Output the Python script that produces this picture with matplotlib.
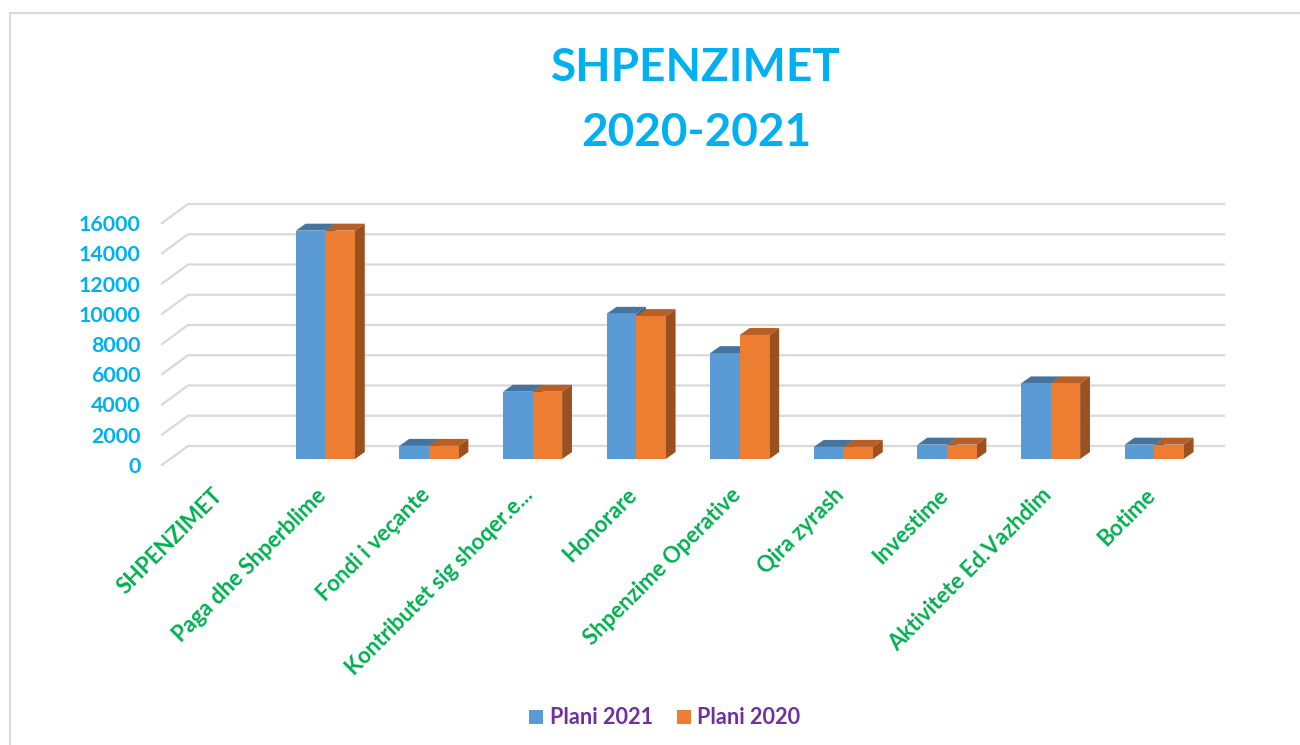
import matplotlib
matplotlib.use('Agg')
import matplotlib.pyplot as plt
from matplotlib.lines import Line2D
from matplotlib.patches import Patch
from matplotlib.transforms import ScaledTranslation

plt.rcParams['font.family'] = ['Lato', 'DejaVu Sans']
plt.rcParams['font.weight'] = 'bold'

categories = ['SHPENZIMET', 'Paga dhe Shperblime', 'Fondi i veçante', 'Kontributet sig shoqer.e...',
              'Honorare', 'Shpenzime Operative', 'Qira zyrash', 'Investime',
              'Aktivitete Ed.Vazhdim', 'Botime']
plani_2021 = [0, 15100, 870, 4450, 9600, 7000, 800, 950, 5000, 950]
plani_2020 = [0, 15100, 870, 4450, 9450, 8200, 800, 950, 5000, 950]
yticks = [0, 2000, 4000, 6000, 8000, 10000, 12000, 14000, 16000]

blue = '#5B9BD5'
orange = '#ED7D31'
blue_top = '#44749F'
orange_top = '#B85F25'
orange_side = '#9A511F'
blue_side = '#386084'
grid_col = '#D9D9D9'

W, H = 1300, 745
fig = plt.figure(figsize=(W / 100, H / 100), dpi=100)

# frame of the chart: only top and left show, the rest is cropped
fig.add_artist(Line2D([10 / W, 10 / W, 1], [0, 1 - 13 / H, 1 - 13 / H], transform=fig.transFigure,
                      color=grid_col, lw=1.5, solid_joinstyle='miter'))

# axes = the plane the bar fronts stand on, in pixels
left, right, bottom, top = 170, 1206, 459, 217
ax = fig.add_axes([left / W, 1 - bottom / H, (right - left) / W, (bottom - top) / H])
ax.set_xlim(-0.5, 9.5)
ax.set_ylim(0, 16000)
ax.patch.set_alpha(0)
for s in ax.spines.values():
    s.set_visible(False)

# fake 3d depth, in data units
bar_w = 0.285
bar_dx = 0.095
bar_dy = 460
wall_dx = 0.174
wall_dy = 860
floor_dx = -0.077
floor_dy = -397

for v in yticks:
    ax.plot([-0.5 + floor_dx, -0.5 + wall_dx, 9.5 + wall_dx], [v + floor_dy, v + wall_dy, v + wall_dy],
            color=grid_col, lw=1.6, clip_on=False, zorder=1, solid_joinstyle='miter')


def draw_bar(x0, val, front, top_col, side_col):
    if val == 0:
        return
    x1 = x0 + bar_w
    ax.fill([x0, x0 + bar_dx, x1 + bar_dx, x1], [val, val + bar_dy, val + bar_dy, val],
            color=top_col, lw=0, clip_on=False, zorder=3)
    ax.fill([x1, x1 + bar_dx, x1 + bar_dx, x1], [0, bar_dy, val + bar_dy, val],
            color=side_col, lw=0, clip_on=False, zorder=3)
    ax.bar(x0, val, width=bar_w, align='edge', color=front, lw=0, clip_on=False, zorder=4)


for i in range(len(categories)):
    draw_bar(i - bar_w, plani_2021[i], blue, blue_top, blue_side)
for i in range(len(categories)):
    draw_bar(i, plani_2020[i], orange, orange_top, orange_side)

ax.set_xticks(range(len(categories)))
ax.set_xticklabels(categories, rotation=45, ha='right', va='top', rotation_mode='anchor',
                   color='#00B050', fontsize=15.9, fontweight='bold')
ax.set_yticks(yticks)
ax.set_yticklabels(yticks, color='#00B0F0', fontsize=15.4, fontweight='bold')
ax.tick_params(axis='both', length=0)
ax.tick_params(axis='x', pad=14)
ax.tick_params(axis='y', pad=21)

# labels sit a bit off the plane in the original
shift_x = ScaledTranslation(-10 / 100, -6 / 100, fig.dpi_scale_trans)
for lab in ax.get_xticklabels():
    lab.set_transform(lab.get_transform() + shift_x)
shift_y = ScaledTranslation(0, -6 / 100, fig.dpi_scale_trans)
for lab in ax.get_yticklabels():
    lab.set_transform(lab.get_transform() + shift_y)

fig.text(696 / W, 1 - 68 / H, 'SHPENZIMET', color='#00B0F0', fontsize=33, fontweight='bold', ha='center', va='center')
fig.text(696 / W, 1 - 133 / H, '2020-2021', color='#00B0F0', fontsize=33, fontweight='bold', ha='center', va='center')

handles = [Patch(facecolor=blue, label='Plani 2021'), Patch(facecolor=orange, label='Plani 2020')]
leg = fig.legend(handles=handles, loc='center', bbox_to_anchor=(665 / W, 1 - 718 / H), ncol=2, frameon=False,
                 fontsize=15.6, handlelength=0.65, handleheight=0.65, handletextpad=0.3, columnspacing=1.1,
                 labelcolor='#7030A0')

fig.savefig('out.png', dpi=100, facecolor='white')
